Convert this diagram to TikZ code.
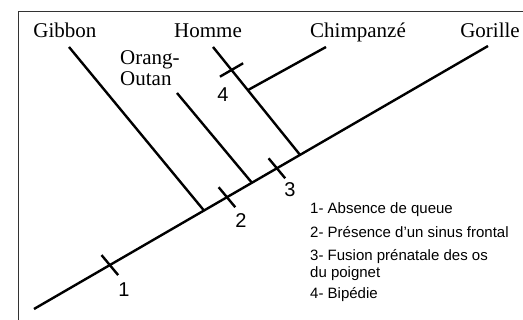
\documentclass[tikz,border=0pt]{standalone}
\usepackage{fontspec}
\setmainfont{Liberation Serif}
\setsansfont{Liberation Sans}
\usetikzlibrary{calc}

\begin{document}
\begin{tikzpicture}[x=20pt,y=20pt]
\tikzset{branch/.style={line width=2.4pt},
  taxon/.style={anchor=base, font=\fontsize{21}{21}\selectfont},
  num/.style={font=\sffamily\fontsize{20}{20}\selectfont},
  legend/.style={anchor=west, inner sep=0pt, align=left,
    font=\sffamily\fontsize{15}{16.5}\selectfont}}
\useasboundingbox (0,0) rectangle (26.15,16);
\draw [black!80, line width=0.8pt] (0.9,0)--(0.9,15.45)--(26.15,15.45);
% main stem and junctions
\coordinate (root) at (1.7,0.55);
\coordinate (gor) at (24.4,13.7);
\coordinate (jgib) at ($(root)!0.3744!(gor)$);
\coordinate (jora) at ($(root)!0.480!(gor)$);
\coordinate (jhom) at ($(root)!0.586!(gor)$);
\coordinate (gib) at (3.45,13.65);
\coordinate (ora) at (8.85,11.35);
\coordinate (hom) at (10.65,13.65);
\coordinate (chi) at (16.3,13.65);
\coordinate (jchi) at ($(hom)!0.4!(jhom)$);
\draw [branch] (root)--(gor);
\draw [branch] (gib)--(jgib);
\draw [branch] (ora)--(jora);
\draw [branch] (hom)--(jhom);
\draw [branch] (chi)--(jchi);
% characters
\coordinate (t1) at ($(root)!0.167!(gor)$);
\coordinate (t2) at ($(root)!0.425!(gor)$);
\coordinate (t3) at ($(root)!0.535!(gor)$);
\coordinate (t4) at ($(hom)!0.213!(jhom)$);
\draw [branch] (t1) +(-0.415,0.5)--+(0.415,-0.5);
\draw [branch] (t2) +(-0.415,0.5)--+(0.415,-0.5);
\draw [branch] (t3) +(-0.415,0.5)--+(0.415,-0.5);
\draw [branch] (t4) +(-0.58,-0.335)--+(0.58,0.335);
\node [num] (n1) at (6.2,1.5) {1};
\node [num] (n2) at (12.05,4.95) {2};
\node [num] (n3) at (14.5,6.5) {3};
\node [num] (n4) at (11.15,11.25) {4};
% taxa
\node [taxon] (gibbon) at (3.25,14.1) {Gibbon};
\node [taxon] (homme) at (10.4,14.1) {Homme};
\node [taxon] (chimp) at (17.9,14.1) {Chimpanzé};
\node [taxon] (gorille) at (24.5,14.1) {Gorille};
\node [taxon, anchor=west, align=left, inner sep=0pt] (orang) at (6.0,12.6) {Orang-\\Outan};
% legend
\node [legend] (c1) at (15.5,5.5) {1- Absence de queue};
\node [legend] (c2) at (15.5,4.4) {2- Présence d'un sinus frontal};
\node [legend] (c3) at (15.5,2.75) {3- Fusion prénatale des os\\du poignet};
\node [legend] (c4) at (15.5,1.25) {4- Bipédie};
\end{tikzpicture}
\end{document}
